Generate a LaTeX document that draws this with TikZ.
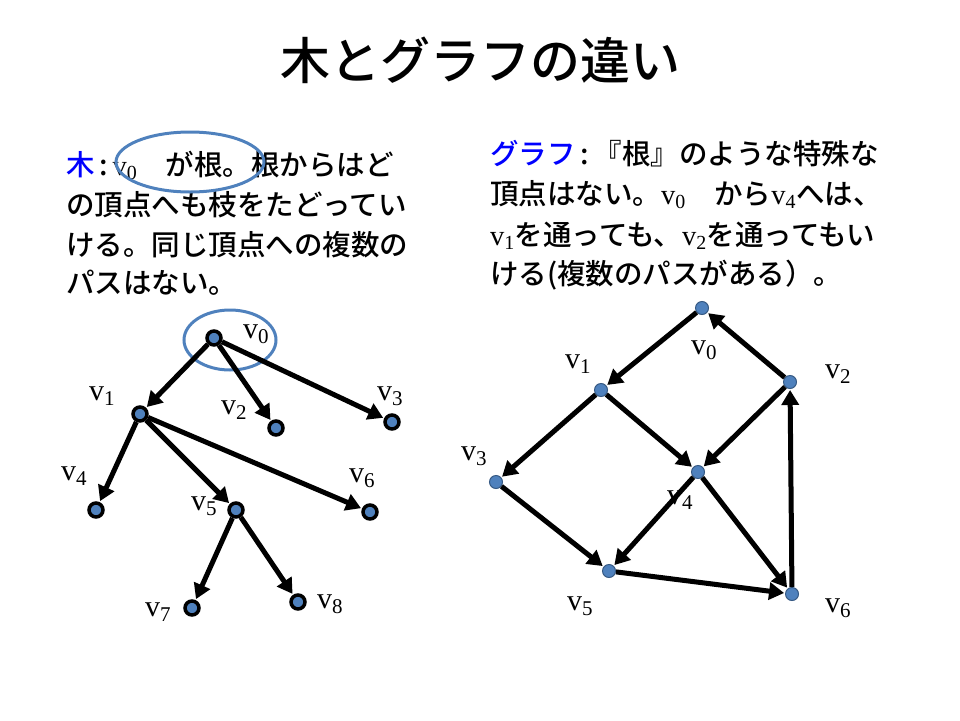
\documentclass[tikz,border=0pt]{standalone}
\usepackage{fontspec}
\newfontfamily\jp{Noto Sans CJK JP Medium}
\newfontfamily\vf{Liberation Serif}
\usetikzlibrary{arrows.meta}
\definecolor{nodeblue}{HTML}{4F81BD}
\definecolor{txtblue}{HTML}{0000FF}
\tikzset{
 tnode/.style={circle,draw=black,line width=3.5pt,fill=nodeblue,minimum size=14pt,inner sep=0pt},
 gnode/.style={circle,draw=nodeblue!70!black,line width=1pt,fill=nodeblue,minimum size=13pt,inner sep=0pt},
 edge/.style={line width=5pt,-{Triangle[length=15pt,width=17pt]},shorten >=1pt},
 vlab/.style={font=\vf\fontsize{30}{32}\selectfont,inner sep=0pt},
 para/.style={font=\jp\fontsize{28.5}{32}\selectfont,anchor=base west,inner sep=0pt},
 ring/.style={draw=nodeblue,line width=3pt}
}
\newcommand{\vv}[1]{{\vf v\textsubscript{#1}}}
\begin{document}
\begin{tikzpicture}[x=1pt,y=-1pt]
\useasboundingbox (0,0) rectangle (960,720);
\node[font=\jp\fontsize{50}{56}\selectfont] (title) at (480,60) {木とグラフの違い};
% left paragraph
\node[para] (l1) at (66,175) {{\color{txtblue}木}\,:\,\vv{0}\quad が根。根からはど};
\node[para] (l2) at (66,215) {の頂点へも枝をたどってい};
\node[para] (l3) at (66,255) {ける。同じ頂点への複数の};
\node[para] (l4) at (66,293) {パスはない。};
% right paragraph
\node[para] (r1) at (490,164) {{\color{txtblue}グラフ}\,:\,『根』のような特殊な};
\node[para] (r2) at (490,204) {頂点はない。\vv{0}\quad から\vv{4}へは、};
\node[para] (r3) at (490,245) {\vv{1}を通っても、\vv{2}を通ってもい};
\node[para] (r4) at (490,284) {ける(複数のパスがある）。};
\draw[ring] (190,162) ellipse [x radius=74, y radius=30];
\draw[ring] (230,340) ellipse [x radius=46, y radius=30];
% tree
\node[tnode] (t0) at (214,338) {};
\node[tnode] (t1) at (140,414) {};
\node[tnode] (t2) at (276,428) {};
\node[tnode] (t3) at (392,422) {};
\node[tnode] (t4) at (96,510) {};
\node[tnode] (t5) at (236,510) {};
\node[tnode] (t6) at (370,512) {};
\node[tnode] (t7) at (192,608) {};
\node[tnode] (t8) at (298,602) {};
\foreach \a/\b in {t0/t1,t0/t2,t0/t3,t1/t4,t1/t5,t1/t6,t5/t7,t5/t8}
  \draw[edge] (\a) -- (\b);
\node[vlab] (lt0) at (256,334) {v\textsubscript{0}};
\node[vlab] (lt1) at (102,396) {v\textsubscript{1}};
\node[vlab] (lt2) at (234,410) {v\textsubscript{2}};
\node[vlab] (lt3) at (390,396) {v\textsubscript{3}};
\node[vlab] (lt4) at (74,476) {v\textsubscript{4}};
\node[vlab] (lt5) at (204,506) {v\textsubscript{5}};
\node[vlab] (lt6) at (362,478) {v\textsubscript{6}};
\node[vlab] (lt7) at (158,612) {v\textsubscript{7}};
\node[vlab] (lt8) at (330,604) {v\textsubscript{8}};
% graph
\node[gnode] (g0) at (702,308) {};
\node[gnode] (g1) at (601,390) {};
\node[gnode] (g2) at (790,382) {};
\node[gnode] (g3) at (496,482) {};
\node[gnode] (g4) at (698,472) {};
\node[gnode] (g5) at (609,571) {};
\node[gnode] (g6) at (792,594) {};
\foreach \a/\b in {g0/g1,g2/g0,g1/g3,g1/g4,g2/g4,g3/g5,g4/g5,g4/g6,g5/g6,g6/g2}
  \draw[edge] (\a) -- (\b);
\node[vlab] (lg0) at (704,350) {v\textsubscript{0}};
\node[vlab] (lg1) at (578,364) {v\textsubscript{1}};
\node[vlab] (lg2) at (838,374) {v\textsubscript{2}};
\node[vlab] (lg3) at (474,456) {v\textsubscript{3}};
\node[vlab] (lg4) at (680,500) {v\textsubscript{4}};
\node[vlab] (lg5) at (580,606) {v\textsubscript{5}};
\node[vlab] (lg6) at (838,608) {v\textsubscript{6}};
\end{tikzpicture}
\end{document}
